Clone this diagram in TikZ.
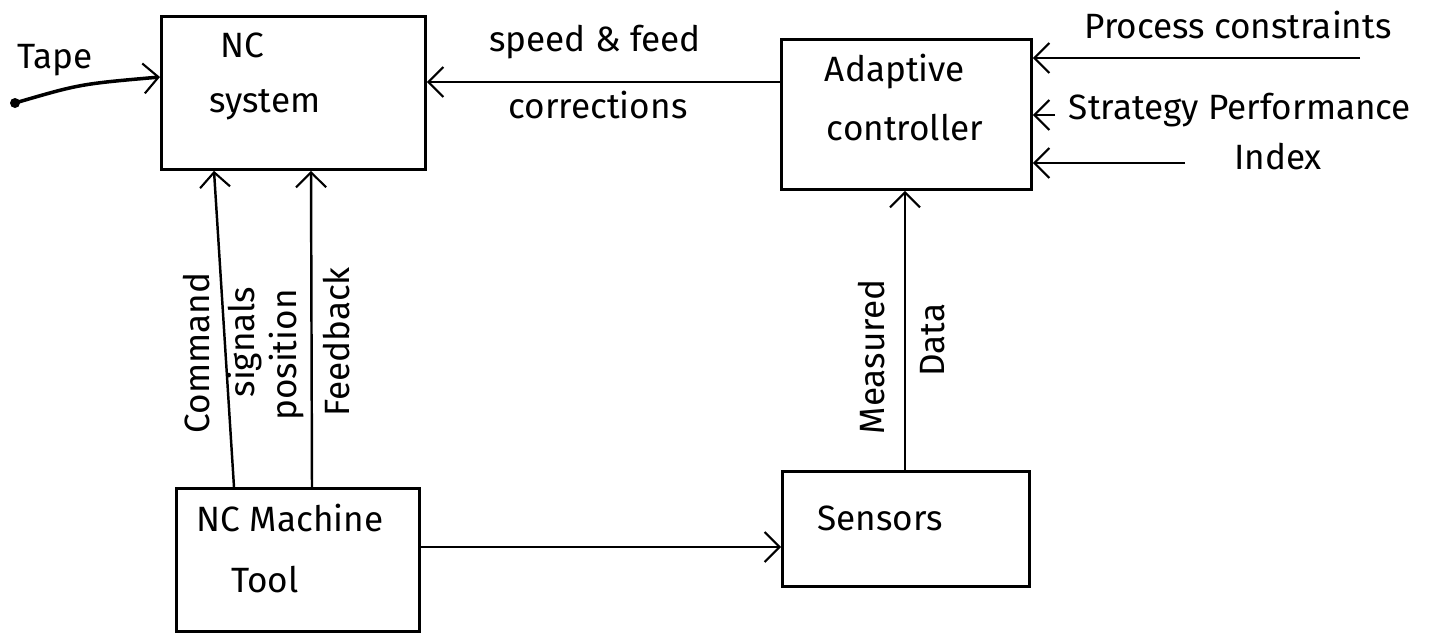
\documentclass[tikz,border=0pt]{standalone}
\usepackage{fontspec}
\setmainfont{Fira Sans}
\usetikzlibrary{arrows.meta}
\begin{document}
\begin{tikzpicture}[x=0.02cm,y=-0.02cm,
  line width=1.4pt,
  blk/.style={draw,line width=1.6pt},
  lbl/.style={font=\fontsize{20}{24}\selectfont,inner sep=0pt},
  flow/.style={-{Straight Barb[length=0.3cm,width=0.6cm,line width=1.2pt]}}]
\useasboundingbox[fill=white] (0,0) rectangle (1444,636);

% blocks
\node[blk,minimum width=264*0.02cm,minimum height=153*0.02cm,anchor=north west] (nc) at (160,15) {};
\node[blk,minimum width=250*0.02cm,minimum height=150*0.02cm,anchor=north west] (ac) at (780,38) {};
\node[blk,minimum width=243*0.02cm,minimum height=143*0.02cm,anchor=north west] (mt) at (175,487) {};
\node[blk,minimum width=247*0.02cm,minimum height=115*0.02cm,anchor=north west] (se) at (781,470) {};

% block texts
\node[lbl] (ncA) at (242,45) {NC};
\node[lbl] (ncB) at (265,105) {system};
\node[lbl] (acA) at (895,72) {Adaptive};
\node[lbl] (acB) at (905,128) {controller};
\node[lbl] (mtA) at (290,518) {NC Machine};
\node[lbl] (mtB) at (265,580) {Tool};
\node[lbl] (seA) at (880,518) {Sensors};

% free ends of the input lines
\coordinate (tape0) at (15,103);
\coordinate (pc0) at (1360,58);
\coordinate (sp0) at (1055,115);
\coordinate (ix0) at (1185,163);

% connectors
\fill (tape0) circle (5);
\draw[flow,line width=2pt] (tape0) .. controls (80,84) .. (nc.west |- 0,77);
\draw[flow] (ac.west |- 0,82) -- (nc.east |- 0,82);
\draw[flow] (pc0) -- (ac.east |- pc0);
\draw[flow] (sp0) -- (ac.east |- sp0);
\draw[flow] (ix0) -- (ac.east |- ix0);
\draw[flow] (mt.north -| 234,0) -- (nc.south -| 214,0);
\draw[flow] (mt.north -| 312,0) -- (nc.south -| 311,0);
\draw[flow] (se.north -| 905,0) -- (ac.south -| 905,0);
\draw[flow] (mt.east |- 0,547) -- (se.west |- 0,547);

% connector labels
\node[lbl] (t1) at (55,60) {Tape};
\node[lbl] (t2) at (595,42) {speed \& feed};
\node[lbl] (t3) at (598,105) {corrections};
\node[lbl] (t4) at (1238,25) {Process constraints};
\node[lbl] (t5) at (1240,110) {Strategy Performance};
\node[lbl] (t6) at (1278,157) {Index};
\node[lbl,rotate=90] (t7) at (197,353) {Command};
\node[lbl,rotate=90] (t8) at (245,342) {signals};
\node[lbl,rotate=90] (t9) at (287,355) {position};
\node[lbl,rotate=90] (t10) at (337,342) {Feedback};
\node[lbl,rotate=90] (t11) at (872,357) {Measured};
\node[lbl,rotate=90] (t12) at (933,340) {Data};
\end{tikzpicture}
\end{document}
